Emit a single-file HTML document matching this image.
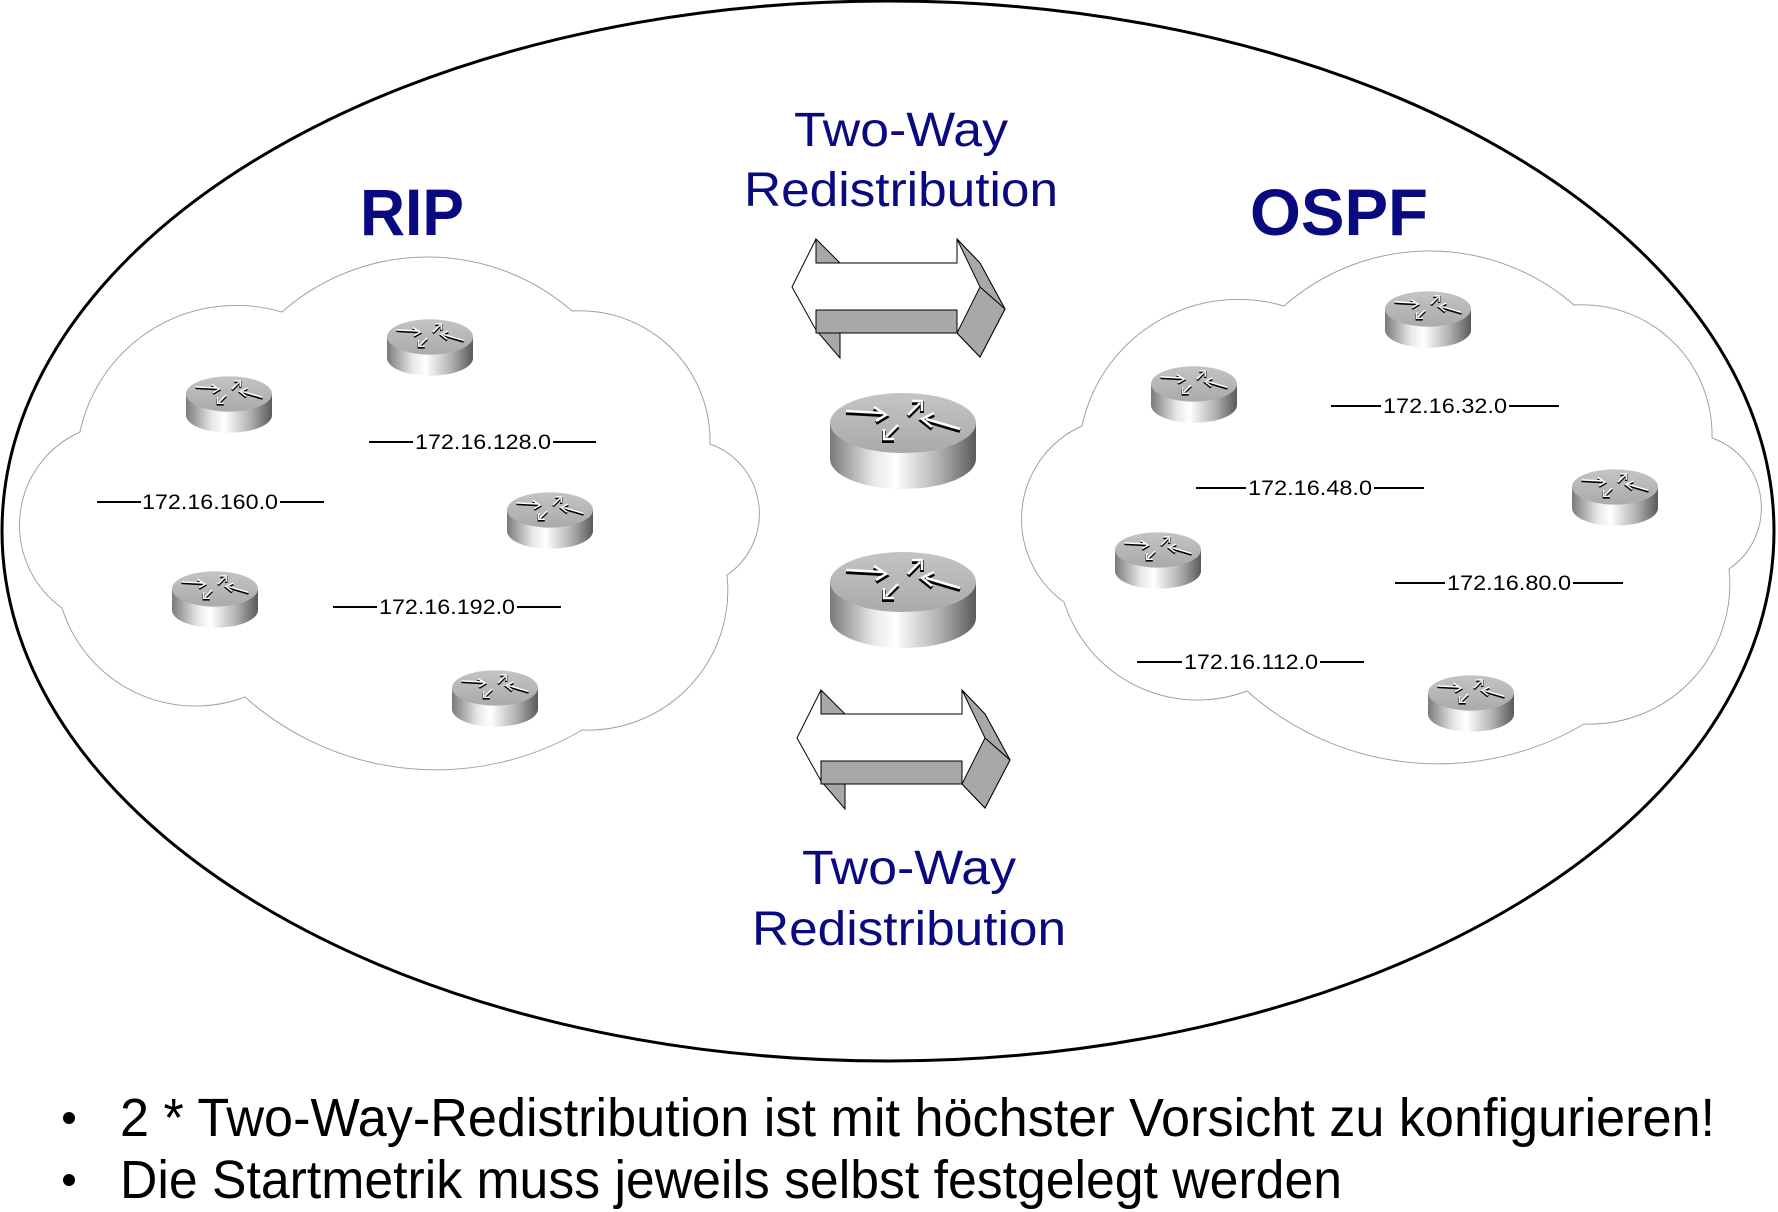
<!DOCTYPE html>
<html><head><meta charset="utf-8"><style>html,body{margin:0;padding:0;background:#fff}svg{display:block}</style></head>
<body>
<svg width="1778" height="1212" viewBox="0 0 1778 1212" xmlns="http://www.w3.org/2000/svg" font-family="'Liberation Sans', sans-serif">
<defs>
<linearGradient id="side" x1="0" x2="1" y1="0" y2="0">
<stop offset="0" stop-color="#7a7a7a"/><stop offset="0.3" stop-color="#e8e8e8"/><stop offset="0.45" stop-color="#ffffff"/><stop offset="0.75" stop-color="#b0b0b0"/><stop offset="1" stop-color="#5a5a5a"/>
</linearGradient>
<linearGradient id="top" x1="0" x2="0" y1="0" y2="1">
<stop offset="0" stop-color="#c4c4c4"/><stop offset="1" stop-color="#aaaaaa"/>
</linearGradient>
<symbol id="router" viewBox="0 0 146 96">
<path d="M0 30 L0 66 A73 30 0 0 0 146 66 L146 30 Z" fill="url(#side)"/>
<ellipse cx="73" cy="30" rx="73" ry="30" fill="url(#top)"/>
<g stroke="#000" stroke-width="4" fill="none">
<path d="M16 20 L52 22 M44 16 L56 24 L46 30"/>
<path d="M130 38 L96 28 M104 22 L92 28 L102 36"/>
<path d="M78 24 L90 12 M82 10 L92 10 L92 20"/>
<path d="M68 34 L56 46 M54 38 L54 48 L64 48"/>
</g>
<g stroke="#fff" stroke-width="2.5" fill="none">
<path d="M16 18 L52 20 M44 14 L56 22 L46 28"/>
<path d="M130 36 L96 26 M104 20 L92 26 L102 34"/>
<path d="M78 22 L90 10 M82 8 L92 8 L92 18"/>
<path d="M68 32 L56 44 M54 36 L54 46 L64 46"/>
</g>
</symbol>
<g id="arrow">
<polygon points="816,239 840,263 816,263" fill="#a8a8a8" stroke="#000" stroke-width="1"/>
<polygon points="816,310 840,333 840,358 816,330" fill="#a8a8a8" stroke="#000" stroke-width="1"/>
<polygon points="816,239 816,263 957,263 957,239 980,263 1005,309 980,357 957,333 816,333 816,330 792,287" fill="#fff" stroke="#000" stroke-width="1"/>
<polygon points="816,310 957,310 957,333 816,333" fill="#a8a8a8" stroke="#000" stroke-width="1"/>
<polygon points="957,239 980,263 1005,309 980,287" fill="#a8a8a8" stroke="#000" stroke-width="1"/>
<polygon points="980,287 1005,309 980,357 957,333" fill="#a8a8a8" stroke="#000" stroke-width="1"/>
</g>
<path id="cloud" d="M 80 432 A 160 160 0 0 1 282 312 A 220 220 0 0 1 572 311 A 130 130 0 0 1 710 444 A 74 74 0 0 1 727 575 A 140 140 0 0 1 582 730 A 287 287 0 0 1 245 697 A 140 140 0 0 1 62 608 A 102 102 0 0 1 80 432 Z" fill="#fff" stroke="#9aa4a8" stroke-width="1"/>
</defs>

<ellipse cx="888" cy="531" rx="886" ry="530" fill="#fff" stroke="#000" stroke-width="3"/>

<use href="#cloud"/>
<use href="#cloud" transform="translate(1002,-6)"/>

<g fill="#0a0a80" text-anchor="middle">
<text x="901" y="146" font-size="48" textLength="214" lengthAdjust="spacingAndGlyphs">Two-Way</text>
<text x="901" y="206" font-size="48" textLength="314" lengthAdjust="spacingAndGlyphs">Redistribution</text>
<text x="909" y="884" font-size="48" textLength="214" lengthAdjust="spacingAndGlyphs">Two-Way</text>
<text x="909" y="945" font-size="48" textLength="314" lengthAdjust="spacingAndGlyphs">Redistribution</text>
<text x="412" y="235" font-size="66" font-weight="bold" textLength="104" lengthAdjust="spacingAndGlyphs">RIP</text>
<text x="1339" y="235" font-size="66" font-weight="bold" textLength="178" lengthAdjust="spacingAndGlyphs">OSPF</text>
</g>

<use href="#arrow"/>
<use href="#arrow" transform="translate(5,451)"/>

<use href="#router" x="830" y="393" width="146" height="96"/>
<use href="#router" x="830" y="552" width="146" height="96"/>

<use href="#router" x="387" y="319" width="86" height="57"/>
<use href="#router" x="186" y="376" width="86" height="57"/>
<use href="#router" x="507" y="492" width="86" height="57"/>
<use href="#router" x="172" y="571" width="86" height="57"/>
<use href="#router" x="452" y="670" width="86" height="57"/>

<use href="#router" x="1385" y="291" width="86" height="57"/>
<use href="#router" x="1151" y="366" width="86" height="57"/>
<use href="#router" x="1572" y="469" width="86" height="57"/>
<use href="#router" x="1115" y="532" width="86" height="57"/>
<use href="#router" x="1428" y="675" width="86" height="57"/>

<g stroke="#000" stroke-width="2">
<line x1="369" y1="442" x2="413" y2="442"/><line x1="553" y1="442" x2="596" y2="442"/>
<line x1="97" y1="502" x2="141" y2="502"/><line x1="280" y1="502" x2="324" y2="502"/>
<line x1="333" y1="607" x2="377" y2="607"/><line x1="517" y1="607" x2="561" y2="607"/>
<line x1="1331" y1="406" x2="1381" y2="406"/><line x1="1509" y1="406" x2="1559" y2="406"/>
<line x1="1196" y1="488" x2="1246" y2="488"/><line x1="1374" y1="488" x2="1424" y2="488"/>
<line x1="1395" y1="583" x2="1445" y2="583"/><line x1="1573" y1="583" x2="1623" y2="583"/>
<line x1="1137" y1="662" x2="1182" y2="662"/><line x1="1320" y1="662" x2="1364" y2="662"/>
</g>
<g font-size="21" fill="#000" text-anchor="middle">
<text x="483" y="449" textLength="136" lengthAdjust="spacingAndGlyphs">172.16.128.0</text>
<text x="210" y="509" textLength="136" lengthAdjust="spacingAndGlyphs">172.16.160.0</text>
<text x="447" y="614" textLength="136" lengthAdjust="spacingAndGlyphs">172.16.192.0</text>
<text x="1445" y="413" textLength="124" lengthAdjust="spacingAndGlyphs">172.16.32.0</text>
<text x="1310" y="495" textLength="124" lengthAdjust="spacingAndGlyphs">172.16.48.0</text>
<text x="1509" y="590" textLength="124" lengthAdjust="spacingAndGlyphs">172.16.80.0</text>
<text x="1251" y="669" textLength="134" lengthAdjust="spacingAndGlyphs">172.16.112.0</text>
</g>

<g font-size="54" fill="#000">
<circle cx="69" cy="1118" r="6"/>
<circle cx="69" cy="1180" r="6"/>
<text x="120" y="1136" textLength="1595" lengthAdjust="spacingAndGlyphs">2 * Two-Way-Redistribution ist mit höchster Vorsicht zu konfigurieren!</text>
<text x="120" y="1198" textLength="1222" lengthAdjust="spacingAndGlyphs">Die Startmetrik muss jeweils selbst festgelegt werden</text>
</g>
</svg>
</body></html>
